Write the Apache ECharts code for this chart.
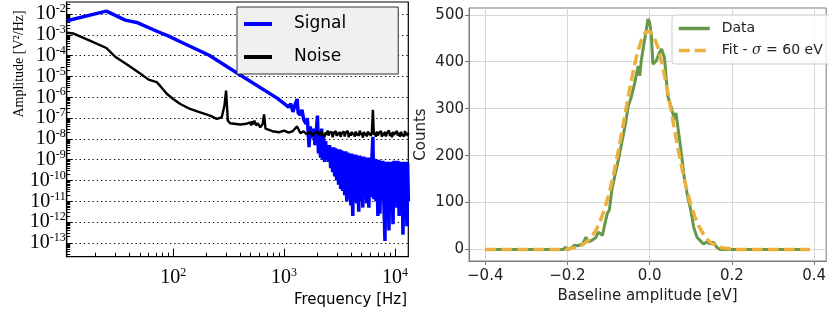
<!DOCTYPE html>
<html>
<head>
<meta charset="utf-8">
<script src="https://cdn.jsdelivr.net/npm/echarts@6/dist/echarts.min.js"></script>
<style>
  html, body { margin: 0; padding: 0; background: #fff; }
  #chart { width: 829px; height: 315px; }
</style>
</head>
<body>
<div id="chart"></div>
<script>
// ---- left panel: spectra (amplitudes as log10 of V^2/Hz) ----
const signalFreq = [11, 25, 37, 48, 73, 90, 116, 211, 402, 865, 1100, 1150, 1200, 1250, 1310, 1340, 1400, 1450, 1500, 1570, 1620, 1680, 1720, 1780, 1850, 1900, 1950];
const signalLogAmp = [-2.32, -1.86, -2.29, -2.42, -2.85, -3.05, -3.33, -3.98, -4.93, -6.04, -6.47, -6.3, -6.7, -6.4, -6.08, -6.75, -6.85, -6.6, -7.05, -7.27, -7.0, -8.4, -7.4, -7.95, -7.5, -8.3, -7.7];

const noiseFreq = [11, 12.5, 17.3, 25, 30, 39, 50, 60, 71, 76, 88, 100, 116, 142, 175, 215, 247, 274, 290, 300,
  311, 326, 402, 460, 495, 505, 515, 525, 540, 560, 580, 610, 640, 660, 680, 785, 900, 1000, 1100, 1200,
  1310, 1400, 1500, 1600, 1700, 1800, 1900];
const noiseLogAmp = [-2.9, -2.93, -3.25, -3.63, -4.05, -4.45, -4.84, -5.15, -5.27, -5.44, -5.84, -6.08, -6.32, -6.56, -6.72, -6.88, -7.04, -6.96, -6.4, -5.68,
  -7.12, -7.25, -7.31, -7.27, -7.2, -7.35, -7.15, -7.3, -7.12, -7.35, -7.25, -7.44, -7.3, -6.82, -7.51, -7.63, -7.68, -7.6, -7.7, -7.62,
  -7.4, -7.72, -7.64, -7.78, -7.66, -7.82, -7.7];

// high frequency part, shared frequency grid
const hfFreq = [2000, 2040, 2090, 2130, 2180, 2220, 2270, 2320, 2370, 2420,
  2470, 2520, 2570, 2630, 2680, 2740, 2800, 2860, 2920, 2980,
  3040, 3100, 3170, 3240, 3300, 3370, 3450, 3520, 3590, 3670,
  3750, 3830, 3910, 3990, 4070, 4160, 4250, 4340, 4430, 4520,
  4620, 4710, 4810, 4920, 5020, 5130, 5230, 5340, 5460, 5570,
  5690, 5810, 5930, 6060, 6190, 6320, 6450, 6590, 6730, 6870,
  7010, 7160, 7310, 7470, 7620, 7780, 7950, 8120, 8290, 8460,
  8640, 8820, 9010, 9200, 9390, 9590, 9790, 10000, 10200, 10400,
  10600, 10900, 11100, 11300, 11600, 11800, 12100, 12300, 12600, 12800,
  13000, 13200];
const hfSignalLogAmp = [-6.88, -8.7, -7.6, -8.9, -7.5, -9.0, -7.9, -9.1, -8.1, -9.0,
  -8.3, -9.1, -8.3, -9.4, -8.4, -9.6, -8.4, -9.8, -8.45, -10.0,
  -8.5, -10.2, -8.5, -10.4, -8.55, -10.5, -8.6, -10.7, -8.6, -11.0,
  -8.65, -10.9, -8.7, -11.2, -8.7, -11.7, -8.75, -11.0, -8.75, -11.1,
  -8.8, -11.5, -8.8, -11.0, -8.85, -11.3, -8.85, -10.9, -8.9, -11.1,
  -8.9, -11.3, -8.9, -10.8, -8.95, -7.9, -10.9, -8.95, -11.0, -9.0,
  -11.7, -9.0, -11.6, -9.05, -10.9, -9.05, -11.2, -12.9, -9.1, -11.4,
  -9.1, -12.4, -9.1, -11.2, -9.1, -12.1, -9.05, -11.0, -9.05, -11.3,
  -9.05, -11.7, -9.1, -11.0, -9.1, -12.6, -9.1, -11.5, -9.1, -12.2,
  -9.15, -11.0];
const hfNoiseLogAmp = [-7.65, -7.8, -7.7, -7.85, -7.62, -7.78, -7.72, -7.9, -7.68, -7.8,
  -7.6, -7.84, -7.7, -7.78, -7.66, -7.92, -7.72, -7.8, -7.62, -7.86,
  -7.7, -7.82, -7.66, -7.9, -7.74, -7.8, -7.64, -7.88, -7.7, -7.78,
  -7.62, -7.92, -7.72, -7.84, -7.66, -7.8, -7.7, -7.9, -7.64, -7.82,
  -7.72, -7.86, -7.6, -7.8, -7.7, -7.94, -7.66, -7.82, -7.72, -7.88,
  -7.64, -7.8, -7.7, -7.86, -7.68, -6.6, -7.8, -7.7, -7.9, -7.64,
  -7.84, -7.72, -7.8, -7.62, -7.9, -7.7, -7.82, -7.66, -7.88, -7.72,
  -7.8, -7.6, -7.86, -7.7, -7.92, -7.66, -7.8, -7.72, -7.88, -7.62,
  -7.84, -7.7, -7.9, -7.66, -7.8, -7.74, -7.88, -7.62, -7.82, -7.7,
  -7.86, -7.72];

const freqDecades = [2, 3, 4];
const ampDecades = [-13, -12, -11, -10, -9, -8, -7, -6, -5, -4, -3, -2];

// ---- right panel: baseline histogram ----
const dataX = [-0.4, -0.21, -0.205, -0.197, -0.19, -0.183, -0.175, -0.163, -0.155, -0.149,
  -0.14, -0.131, -0.125, -0.115, -0.107, -0.103, -0.098, -0.092, -0.084, -0.076,
  -0.068, -0.06, -0.052, -0.044, -0.04, -0.036, -0.028, -0.024, -0.02, -0.012,
  -0.004, 0, 0.004, 0.008, 0.016, 0.024, 0.029, 0.036, 0.044, 0.052,
  0.06, 0.064, 0.069, 0.076, 0.084, 0.091, 0.1, 0.107, 0.115, 0.123,
  0.131, 0.139, 0.147, 0.155, 0.163, 0.171, 0.39];
const dataCounts = [0, 0, 5, 0, 4, 9, 8, 12, 26, 16,
  20, 25, 37, 30, 62, 77, 84, 127, 160, 191,
  227, 262, 305, 327, 323, 356, 391, 370, 405, 448,
  491, 484, 456, 395, 402, 420, 427, 409, 327, 305,
  277, 291, 259, 212, 155, 119, 84, 48, 26, 19,
  12, 16, 12, 16, 5, 0, 0];
const fitX = [-0.4, -0.21, -0.2, -0.19, -0.18, -0.17, -0.16, -0.15, -0.14, -0.13, -0.12, -0.11,
  -0.1, -0.09, -0.08, -0.07, -0.06, -0.05, -0.04, -0.03, -0.02, -0.01,
  0, 0.01, 0.02, 0.03, 0.04, 0.05, 0.06, 0.07, 0.08, 0.09,
  0.1, 0.11, 0.12, 0.13, 0.14, 0.15, 0.16, 0.17, 0.18, 0.19, 0.2, 0.21, 0.39];
const fitCounts = [0, 0, 1, 3, 4, 7, 12, 19, 29, 42, 61, 85,
  115, 151, 193, 239, 287, 336, 380, 418, 446, 463,
  465, 454, 431, 396, 354, 307, 258, 211, 167, 129,
  96, 70, 49, 34, 22, 14, 9, 5, 3, 2, 1, 0, 0];
const baselineTicks = [-0.4, -0.2, 0, 0.2, 0.4];
const countTicks = [0, 100, 200, 300, 400, 500];

// ---- build ----
const lg = Math.log10;
const signalData = signalFreq.map((f, i) => [lg(f), signalLogAmp[i]])
  .concat(hfFreq.map((f, i) => [lg(f), hfSignalLogAmp[i]]));
const noiseData = noiseFreq.map((f, i) => [lg(f), noiseLogAmp[i]])
  .concat(hfFreq.map((f, i) => [lg(f), hfNoiseLogAmp[i]]));

const xMin = 1.04, xMax = 4.12, yMin = -13.66, yMax = -1.42;
const xMinor = [], yMinor = [];
[1, 2, 3].forEach(d => { for (let k = 2; k <= 9; k++) { const v = d + lg(k); if (v > xMin && v < xMax) xMinor.push(v); } });
[-14].concat(ampDecades).forEach(d => { for (let k = 2; k <= 9; k++) { const v = d + lg(k); if (v > yMin && v < yMax) yMinor.push(v); } });

const serif = 'Liberation Serif';
const sans = 'DejaVu Sans';
const powRich = {
  b: { fontFamily: serif, fontSize: 20, color: '#000', lineHeight: 22 },
  s: { fontFamily: serif, fontSize: 12, color: '#000', lineHeight: 12, verticalAlign: 'top' }
};
const powFmt = v => '{b|10}{s|' + Math.round(v) + '}';

const grey = '#7a7a7a';

const chart = echarts.init(document.getElementById('chart'));
chart.setOption({
  animation: false,
  backgroundColor: '#fff',
  grid: [
    { left: 66.7, right: 420.7, top: 2, bottom: 58.3, show: true, borderColor: '#000', borderWidth: 1.2, backgroundColor: 'transparent' },
    { left: 469, right: -6, top: 8, bottom: 54, show: true, borderColor: grey, borderWidth: 1, backgroundColor: 'transparent' }
  ],
  legend: [
    {
      left: 237, top: 7, orient: 'vertical', align: 'left',
      backgroundColor: '#f0f0f0', borderColor: '#333', borderWidth: 1,
      padding: [7, 52, 7, 7], itemGap: 13, itemWidth: 28, itemHeight: 4, icon: 'rect',
      textStyle: { fontFamily: sans, fontSize: 17, color: '#000', lineHeight: 20, padding: [0, 0, 0, 17] },
      data: ['Signal', 'Noise']
    },
    {
      left: 672, top: 15, orient: 'vertical', align: 'left',
      backgroundColor: 'rgba(255,255,255,0.8)', borderColor: '#cccccc', borderWidth: 1, borderRadius: 3,
      padding: [5, 10, 5, 5], itemGap: 5, itemWidth: 31, itemHeight: 14,
      itemStyle: { opacity: 0 },
      lineStyle: { width: 3.5 },
      formatter: name => name.replace('σ', '{i|σ}'),
      textStyle: {
        fontFamily: sans, fontSize: 14, color: '#222', lineHeight: 17, padding: [0, 0, 0, 7],
        rich: { i: { fontFamily: 'DejaVu Serif', fontStyle: 'italic', fontSize: 14, color: '#222' } }
      },
      data: ['Data', 'Fit - σ = 60 eV']
    }
  ],
  xAxis: [
    {
      gridIndex: 0, type: 'value', min: xMin, max: xMax, position: 'bottom',
      axisLine: { onZero: false, lineStyle: { color: '#000', width: 1.2 } },
      axisTick: { inside: true, length: 8, customValues: freqDecades, lineStyle: { color: '#000', width: 1 } },
      axisLabel: { customValues: freqDecades, formatter: powFmt, rich: powRich, margin: 10 },
      splitLine: { show: false }
    },
    {
      gridIndex: 0, type: 'value', min: xMin, max: xMax, position: 'bottom',
      axisLine: { show: false, onZero: false },
      axisTick: { inside: true, length: 4, customValues: xMinor, lineStyle: { color: '#000', width: 1 } },
      axisLabel: { show: false },
      splitLine: { show: false }
    },
    {
      gridIndex: 1, type: 'value', min: -0.4395, max: 0.4295,
      axisLine: { onZero: false, lineStyle: { color: grey } },
      axisTick: { length: 4, customValues: baselineTicks, lineStyle: { color: grey } },
      axisLabel: {
        customValues: baselineTicks, margin: 8, color: '#222', fontFamily: sans, fontSize: 15,
        formatter: v => (v < 0 ? '\u2212' : '') + Math.abs(v).toFixed(1)
      },
      splitLine: { show: true, lineStyle: { color: '#d6d6d6', width: 1 } },
      name: 'Baseline amplitude [eV]', nameLocation: 'middle', nameGap: 25,
      nameTextStyle: { fontFamily: sans, fontSize: 15, color: '#222' }
    }
  ],
  yAxis: [
    {
      gridIndex: 0, type: 'value', min: yMin, max: yMax, position: 'left',
      axisLine: { onZero: false, lineStyle: { color: '#000', width: 1.2 } },
      axisTick: { inside: true, length: 6, customValues: ampDecades, lineStyle: { color: '#000', width: 1 } },
      axisLabel: { customValues: ampDecades, formatter: powFmt, rich: powRich, margin: 1 },
      splitLine: { show: true, lineStyle: { color: '#000', width: 1, type: [1.3, 3] } }
    },
    {
      gridIndex: 0, type: 'value', min: yMin, max: yMax, position: 'left',
      axisLine: { show: false, onZero: false },
      axisTick: { inside: true, length: 3.5, customValues: yMinor, lineStyle: { color: '#000', width: 1 } },
      axisLabel: { show: false },
      splitLine: { show: false }
    },
    {
      gridIndex: 1, type: 'value', min: -24.5, max: 514.5,
      axisLine: { onZero: false, lineStyle: { color: grey } },
      axisTick: { length: 4, customValues: countTicks, lineStyle: { color: grey } },
      axisLabel: { customValues: countTicks, margin: 5, color: '#222', fontFamily: sans, fontSize: 15 },
      splitLine: { show: true, lineStyle: { color: '#d6d6d6', width: 1 } },
      name: 'Counts', nameLocation: 'middle', nameGap: 40,
      nameTextStyle: { fontFamily: sans, fontSize: 15, color: '#222' }
    }
  ],
  series: [
    {
      name: 'Signal', type: 'line', xAxisIndex: 0, yAxisIndex: 0, data: signalData,
      symbol: 'none', color: '#0000ff', lineStyle: { color: '#0000ff', width: 3.5 }, z: 2
    },
    {
      name: 'Noise', type: 'line', xAxisIndex: 0, yAxisIndex: 0, data: noiseData,
      symbol: 'none', color: '#000', lineStyle: { color: '#000', width: 2.4 }, z: 3
    },
    {
      name: 'Data', type: 'line', xAxisIndex: 2, yAxisIndex: 2,
      data: dataX.map((x, i) => [x, dataCounts[i]]),
      symbol: 'none', color: '#67984a', lineStyle: { color: '#67984a', width: 3 }, z: 2
    },
    {
      name: 'Fit - σ = 60 eV', type: 'line', xAxisIndex: 2, yAxisIndex: 2,
      data: fitX.map((x, i) => [x, fitCounts[i]]),
      symbol: 'none', color: '#ecb03e', lineStyle: { color: '#ecb03e', width: 3.5, type: [11, 5] }, z: 3
    }
  ],
  graphic: [
    {
      type: 'text', x: 19, y: 64, rotation: Math.PI / 2,
      style: { text: 'Amplitude [V\u00b2/Hz]', fontFamily: serif, fontSize: 14, fill: '#000', align: 'center', verticalAlign: 'middle' }
    },
    {
      type: 'text', x: 407, y: 300,
      style: { text: 'Frequency [Hz]', fontFamily: sans, fontSize: 15, fill: '#000', align: 'right', verticalAlign: 'middle' }
    }
  ]
});
</script>
</body>
</html>
